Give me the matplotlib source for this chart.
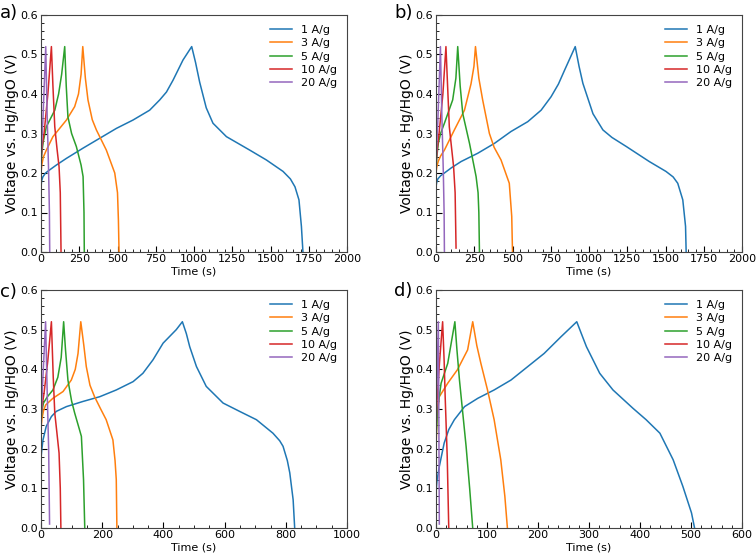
import matplotlib
matplotlib.use("Agg")
import matplotlib.pyplot as plt
from matplotlib.ticker import AutoMinorLocator, MultipleLocator

rates = ["1 A/g", "3 A/g", "5 A/g", "10 A/g", "20 A/g"]
colors = ["#1f77b4", "#ff7f0e", "#2ca02c", "#d62728", "#9467bd"]
panel_labels = ["a)", "b)", "c)", "d)"]
xmax = [2000, 2000, 1000, 600]

# Panel a
a_time = [
    [0, 4, 12, 30, 57, 100, 166, 275, 384, 493, 601, 710, 776, 820, 863, 928, 985, 1010, 1037, 1080, 1124, 1212, 1364, 1473, 1582, 1630, 1660, 1686, 1702, 1712],
    [0, 5, 15, 35, 78, 166, 220, 245, 262, 273, 290, 307, 335, 362, 427, 482, 500, 506, 510],
    [0, 5, 15, 35, 90, 115, 135, 155, 165, 176, 200, 231, 262, 275, 281, 283],
    [0, 8, 20, 45, 68, 78, 90, 105, 118, 126, 131],
    [0, 5, 12, 31, 40, 50, 55, 57],
]
a_volt = [
    [0.165, 0.18, 0.19, 0.2, 0.208, 0.22, 0.237, 0.263, 0.288, 0.313, 0.334, 0.359, 0.385, 0.405, 0.435, 0.486, 0.52, 0.48, 0.43, 0.365, 0.326, 0.292, 0.258, 0.233, 0.204, 0.185, 0.165, 0.132, 0.065, 0.0],
    [0.2, 0.22, 0.24, 0.258, 0.292, 0.334, 0.368, 0.4, 0.45, 0.52, 0.44, 0.385, 0.335, 0.309, 0.258, 0.2, 0.15, 0.08, 0.0],
    [0.22, 0.25, 0.28, 0.317, 0.359, 0.4, 0.45, 0.52, 0.42, 0.342, 0.3, 0.267, 0.22, 0.191, 0.1, 0.0],
    [0.23, 0.27, 0.3, 0.4, 0.52, 0.42, 0.317, 0.26, 0.216, 0.15, 0.0],
    [0.22, 0.28, 0.33, 0.52, 0.35, 0.2, 0.1, 0.0],
]

# Panel b
b_time = [
    [0, 4, 12, 30, 55, 100, 164, 273, 382, 490, 600, 687, 752, 800, 840, 910, 935, 960, 1026, 1091, 1150, 1244, 1394, 1503, 1550, 1580, 1613, 1631, 1635],
    [0, 5, 15, 30, 55, 120, 186, 229, 248, 258, 280, 305, 349, 380, 425, 479, 495, 500],
    [0, 5, 15, 30, 55, 109, 130, 142, 158, 175, 219, 262, 275, 280, 284],
    [0, 8, 20, 45, 65, 87, 100, 115, 125, 131],
    [0, 5, 12, 29, 38, 48, 53, 55],
]
b_volt = [
    [0.165, 0.175, 0.185, 0.193, 0.2, 0.213, 0.229, 0.25, 0.275, 0.305, 0.33, 0.359, 0.393, 0.425, 0.46, 0.52, 0.47, 0.427, 0.35, 0.309, 0.29, 0.267, 0.229, 0.204, 0.19, 0.174, 0.132, 0.065, 0.0],
    [0.2, 0.215, 0.23, 0.243, 0.258, 0.309, 0.359, 0.426, 0.47, 0.52, 0.44, 0.385, 0.3, 0.265, 0.233, 0.174, 0.09, 0.0],
    [0.21, 0.24, 0.275, 0.3, 0.326, 0.385, 0.44, 0.52, 0.42, 0.35, 0.275, 0.191, 0.15, 0.1, 0.0],
    [0.22, 0.26, 0.3, 0.4, 0.52, 0.317, 0.27, 0.216, 0.15, 0.01],
    [0.21, 0.27, 0.33, 0.52, 0.35, 0.2, 0.1, 0.0],
]

# Panel c
c_time = [
    [0, 3, 6.5, 17, 34, 50, 83, 137, 192, 246, 301, 333, 366, 399, 442, 462, 475, 486, 508, 540, 595, 649, 704, 758, 780, 791, 805, 813, 824, 829],
    [0, 3, 8, 15, 39, 72, 99, 112, 121, 130, 140, 148, 160, 175, 195, 213, 235, 242, 246, 248],
    [0, 3, 8, 20, 39, 55, 66, 74, 80, 88, 100, 110, 125, 132, 139, 143],
    [0, 4, 10, 22, 34, 40, 45, 52, 59, 63, 65],
    [0, 2, 5, 15, 20, 25, 28],
]
c_volt = [
    [0.176, 0.2, 0.222, 0.256, 0.281, 0.294, 0.306, 0.319, 0.331, 0.348, 0.369, 0.39, 0.424, 0.466, 0.5, 0.52, 0.49, 0.457, 0.407, 0.357, 0.315, 0.294, 0.273, 0.239, 0.22, 0.206, 0.17, 0.139, 0.071, 0.0],
    [0.25, 0.275, 0.295, 0.31, 0.327, 0.344, 0.373, 0.4, 0.44, 0.52, 0.46, 0.407, 0.36, 0.331, 0.3, 0.273, 0.222, 0.17, 0.122, 0.0],
    [0.27, 0.295, 0.315, 0.33, 0.348, 0.38, 0.43, 0.52, 0.45, 0.373, 0.32, 0.29, 0.25, 0.231, 0.122, 0.0],
    [0.28, 0.31, 0.34, 0.42, 0.52, 0.38, 0.29, 0.24, 0.189, 0.1, 0.0],
    [0.27, 0.3, 0.36, 0.52, 0.35, 0.2, 0.01],
]

# Panel d
d_time = [
    [0, 2, 6.5, 16, 25, 36, 56, 82, 114, 147, 180, 212, 245, 276, 285, 295, 321, 347, 386, 412, 439, 465, 484, 501, 507],
    [0, 2, 6.5, 23, 42, 62, 72, 80, 88, 101, 114, 127, 135, 140],
    [0, 3, 10, 23, 37, 41, 46, 59, 66, 72],
    [0, 2, 7, 13, 16, 18, 22, 25],
    [0, 1.5, 4.6, 5.5, 6.5],
]
d_volt = [
    [0.09, 0.12, 0.155, 0.214, 0.248, 0.273, 0.306, 0.327, 0.348, 0.373, 0.407, 0.44, 0.482, 0.52, 0.49, 0.457, 0.39, 0.348, 0.302, 0.273, 0.239, 0.172, 0.105, 0.038, 0.0],
    [0.2, 0.28, 0.331, 0.365, 0.399, 0.449, 0.52, 0.46, 0.415, 0.348, 0.273, 0.172, 0.08, 0.0],
    [0.22, 0.3, 0.365, 0.415, 0.52, 0.45, 0.373, 0.206, 0.1, 0.0],
    [0.25, 0.32, 0.42, 0.52, 0.42, 0.33, 0.18, 0.0],
    [0.22, 0.35, 0.52, 0.3, 0.01],
]

panels = [(a_time, a_volt), (b_time, b_volt), (c_time, c_volt), (d_time, d_volt)]

W, H = 756, 554
fig = plt.figure(figsize=(W / 100, H / 100), dpi=100)

rects_px = [(41, 15, 347, 252), (436, 15, 742, 252), (41, 290, 347, 528), (436, 290, 742, 528)]
label_pos = [(0, 13.5), (394, 13.5), (0, 292), (394, 291)]

for i, (times, volts) in enumerate(panels):
    x0, y0, x1, y1 = rects_px[i]
    ax = fig.add_axes([x0 / W, 1 - y1 / H, (x1 - x0) / W, (y1 - y0) / H])
    for t, v, lab, col in zip(times, volts, rates, colors):
        ax.plot(t, v, color=col, lw=1.1, label=lab)
    ax.set_xlim(0, xmax[i])
    ax.set_ylim(0, 0.6)
    ax.yaxis.set_major_locator(MultipleLocator(0.1))
    ax.xaxis.set_minor_locator(AutoMinorLocator())
    ax.yaxis.set_minor_locator(AutoMinorLocator())
    ax.tick_params(which="both", direction="in", top=False, right=False, labelsize=8)
    ax.tick_params(axis="x", which="major", pad=1.5)
    ax.tick_params(axis="y", which="major", pad=2)
    ax.tick_params(which="major", length=4, width=0.8)
    ax.tick_params(which="minor", length=2, width=0.6)
    ax.set_xlabel("Time (s)", fontsize=8, labelpad=1.5)
    ax.set_ylabel("Voltage vs. Hg/HgO (V)", fontsize=10)
    ax.yaxis.set_label_coords(-22 / (x1 - x0), 0.5)
    for s in ax.spines.values():
        s.set_color("#444444")
    ax.legend(loc="upper right", frameon=False, fontsize=8, handlelength=2.0,
              labelspacing=0.3)
    lx, ly = label_pos[i]
    fig.text(lx / W, 1 - ly / H, panel_labels[i], fontsize=13, va="center", ha="left")

fig.savefig("out.png", dpi=100)
